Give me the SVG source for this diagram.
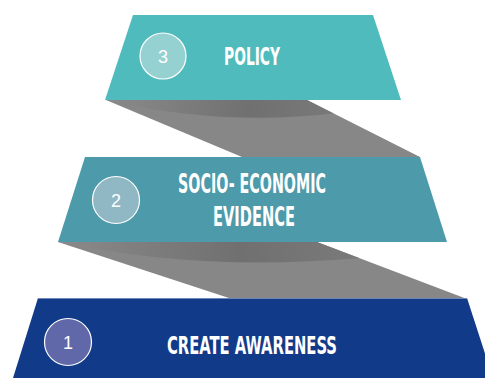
<svg xmlns="http://www.w3.org/2000/svg" width="485" height="378" viewBox="0 0 485 378">
<defs>
<linearGradient id="band" x1="0" y1="0" x2="1" y2="0">
<stop offset="0" stop-color="#8a8a8a"/>
<stop offset="0.6" stop-color="#707070"/>
<stop offset="1" stop-color="#7a7a7a"/>
</linearGradient>
<clipPath id="sc1"><polygon points="106,100 307,100 420,157 242,157"/></clipPath>
<clipPath id="sc2"><polygon points="58,242 317,242 467,299 232,299"/></clipPath>
</defs>
<style>
.shadow{fill:#878787}
.lbl{font-family:"Liberation Sans Narrow","DejaVu Sans Condensed","Liberation Sans",sans-serif;font-weight:bold;fill:#ffffff;text-anchor:middle}
.num{font-family:"Liberation Sans","DejaVu Sans",sans-serif;font-size:18px;fill:#ffffff;text-anchor:middle}
.circ{stroke:#ffffff;stroke-width:1.2}
</style>
<rect width="485" height="378" fill="#ffffff"/>
<g id="connectors">
<g id="shadow1">
<polygon class="shadow" points="106,100 307,100 420,157 242,157"/>
<path clip-path="url(#sc1)" d="M106,100 Q225,128 345,112 L345,100 Z" fill="url(#band)"/>
</g>
<g id="shadow2">
<polygon class="shadow" points="58,242 317,242 467,299 232,299"/>
<path clip-path="url(#sc2)" d="M58,242 Q200,272 360,258 L360,242 Z" fill="url(#band)"/>
</g>
</g>
<g id="node-policy">
<polygon points="133,15 373,15 401,100 105,100" fill="#4FBBBC"/>
<circle class="circ" cx="163" cy="56" r="23" fill="#96D1D1"/>
<text class="num" x="163" y="63">3</text>
<text class="lbl" x="252" y="65" font-size="25" textLength="56" lengthAdjust="spacingAndGlyphs">POLICY</text>
</g>
<g id="node-evidence">
<polygon points="85,157 420,157 447,242 58,242" fill="#4D9AAA"/>
<circle class="circ" cx="116" cy="200" r="23.5" fill="#8FB8C4"/>
<text class="num" x="116" y="207">2</text>
<text class="lbl" x="252" y="193" font-size="26" textLength="148" lengthAdjust="spacingAndGlyphs">SOCIO- ECONOMIC</text>
<text class="lbl" x="254" y="226" font-size="26" textLength="82" lengthAdjust="spacingAndGlyphs">EVIDENCE</text>
</g>
<g id="node-awareness">
<polygon points="38,298 467,298 493,378 13,378" fill="#113A88"/>
<line x1="38" y1="298.5" x2="467" y2="298.5" stroke="#6f86b8" stroke-width="1"/>
<circle class="circ" cx="68" cy="342" r="23.5" fill="#6068A9"/>
<text class="num" x="68" y="349">1</text>
<text class="lbl" x="252" y="354" font-size="24" textLength="170" lengthAdjust="spacingAndGlyphs">CREATE AWARENESS</text>
</g>
</svg>
